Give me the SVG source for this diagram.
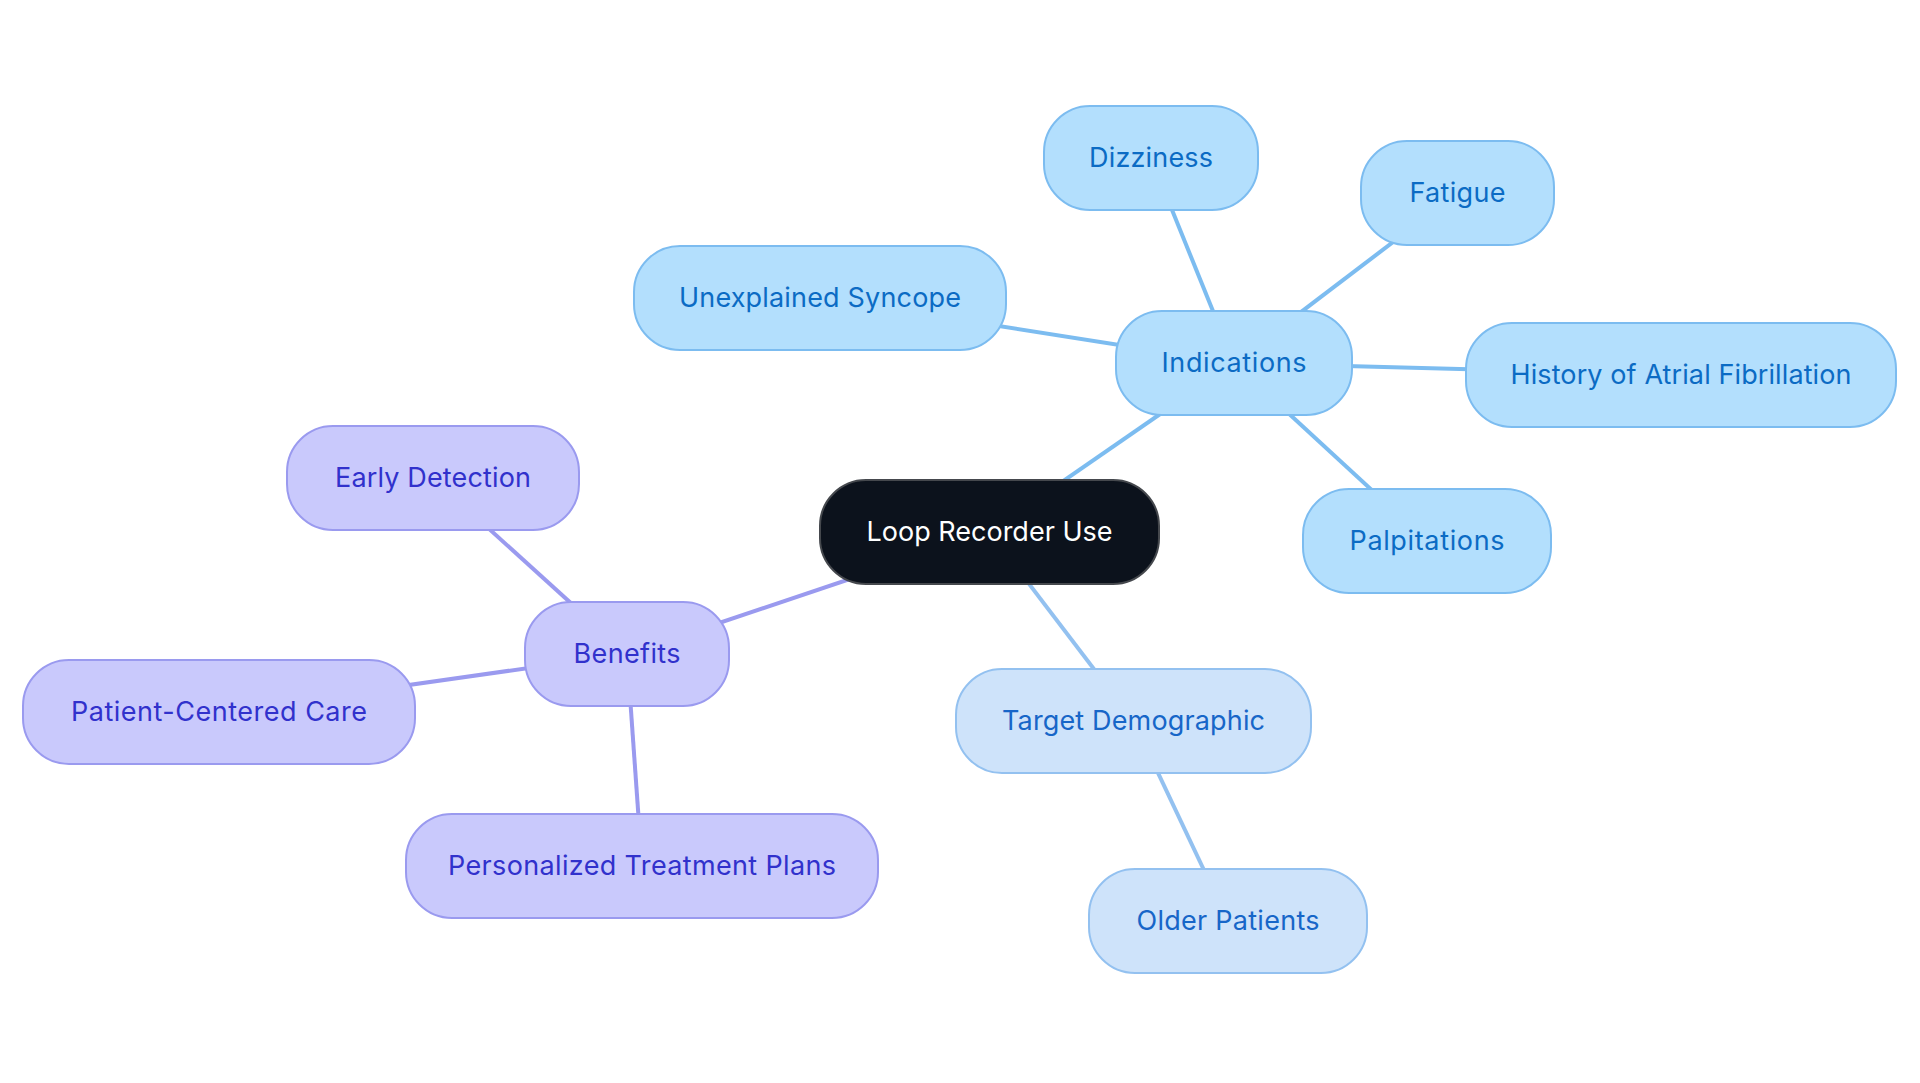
<svg xmlns="http://www.w3.org/2000/svg" width="1920" height="1083" viewBox="0 0 1920 1083">
<style>
text{font-family:Inter,"Open Sans","Liberation Sans",sans-serif;font-size:27px;text-anchor:middle;}
.ind rect{fill:#b3dffd;stroke:#7cbcf0;stroke-width:2;}
.ind text{fill:#0b6bc4;}
.ben rect{fill:#c9c9fc;stroke:#9a9aef;stroke-width:2;}
.ben text{fill:#3131cc;}
.tgt rect{fill:#cee3fa;stroke:#93c1f0;stroke-width:2;}
.tgt text{fill:#1766c8;}
.root rect{fill:#0c121c;stroke:#45484d;stroke-width:2;}
.root text{fill:#ffffff;}
.e-ind{stroke:#7cbcf0;stroke-width:4;}
.e-ben{stroke:#9a9aef;stroke-width:4;}
.e-tgt{stroke:#93c1f0;stroke-width:4;}
</style>
<rect width="1920" height="1083" fill="#ffffff"/>
<g id="connectors">
<line class="e-ind" x1="989.5" y1="532" x2="1234" y2="363"/>
<line class="e-ind" x1="1234" y1="363" x2="1151" y2="158"/>
<line class="e-ind" x1="1234" y1="363" x2="1457.5" y2="193"/>
<line class="e-ind" x1="1234" y1="363" x2="820" y2="298"/>
<line class="e-ind" x1="1234" y1="363" x2="1681" y2="375"/>
<line class="e-ind" x1="1234" y1="363" x2="1427" y2="541"/>
<line class="e-ben" x1="989.5" y1="532" x2="627" y2="654"/>
<line class="e-ben" x1="627" y1="654" x2="433" y2="478"/>
<line class="e-ben" x1="627" y1="654" x2="219" y2="712"/>
<line class="e-ben" x1="627" y1="654" x2="642" y2="866"/>
<line class="e-tgt" x1="989.5" y1="532" x2="1133.5" y2="721"/>
<line class="e-tgt" x1="1133.5" y1="721" x2="1228" y2="921"/>
</g>
<g id="root" class="root"><rect x="820" y="480" width="339" height="104" rx="46"/><text x="989.5" y="540.5" textLength="246">Loop Recorder Use</text></g>
<g id="indications" class="ind"><rect x="1116" y="311" width="236" height="104" rx="46"/><text x="1234" y="371.5" textLength="145">Indications</text></g>
<g id="dizziness" class="ind"><rect x="1044" y="106" width="214" height="104" rx="46"/><text x="1151" y="166.5" textLength="124">Dizziness</text></g>
<g id="fatigue" class="ind"><rect x="1361" y="141" width="193" height="104" rx="46"/><text x="1457.5" y="201.5" textLength="96">Fatigue</text></g>
<g id="syncope" class="ind"><rect x="634" y="246" width="372" height="104" rx="46"/><text x="820" y="306.5" textLength="282">Unexplained Syncope</text></g>
<g id="afib" class="ind"><rect x="1466" y="323" width="430" height="104" rx="46"/><text x="1681" y="383.5" textLength="341">History of Atrial Fibrillation</text></g>
<g id="palpitations" class="ind"><rect x="1303" y="489" width="248" height="104" rx="46"/><text x="1427" y="549.5" textLength="155">Palpitations</text></g>
<g id="target" class="tgt"><rect x="956" y="669" width="355" height="104" rx="46"/><text x="1133.5" y="729.5" textLength="263">Target Demographic</text></g>
<g id="older" class="tgt"><rect x="1089" y="869" width="278" height="104" rx="46"/><text x="1228" y="929.5" textLength="183">Older Patients</text></g>
<g id="benefits" class="ben"><rect x="525" y="602" width="204" height="104" rx="46"/><text x="627" y="662.5" textLength="107">Benefits</text></g>
<g id="early" class="ben"><rect x="287" y="426" width="292" height="104" rx="46"/><text x="433" y="486.5" textLength="196">Early Detection</text></g>
<g id="patient" class="ben"><rect x="23" y="660" width="392" height="104" rx="46"/><text x="219" y="720.5" textLength="296">Patient-Centered Care</text></g>
<g id="personalized" class="ben"><rect x="406" y="814" width="472" height="104" rx="46"/><text x="642" y="874.5" textLength="388">Personalized Treatment Plans</text></g>
</svg>
